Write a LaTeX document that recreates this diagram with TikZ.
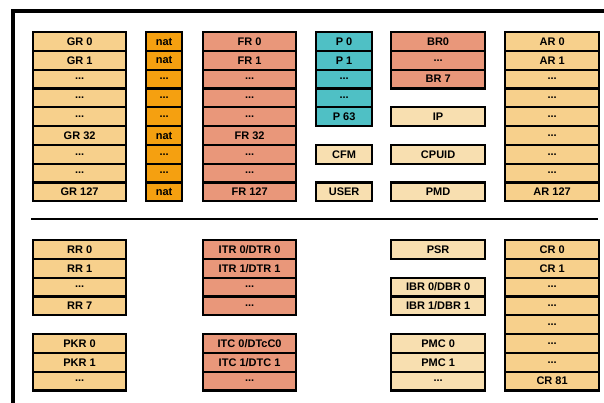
\documentclass[tikz,border=0pt]{standalone}
\usepackage{fontspec}
\setmainfont{Liberation Sans}
\usetikzlibrary{shadows}
\definecolor{gen}{HTML}{F7D08C}
\definecolor{natc}{HTML}{F5A010}
\definecolor{frc}{HTML}{E9977A}
\definecolor{prc}{HTML}{4FC0C5}
\definecolor{ltc}{HTML}{F8DFB0}
\newcommand\dd{...}
\newcommand\regcol[6]{%
  \foreach \t [count=\i from 0] in {#6} {%
    \node[regbox, fill=#5, minimum width=#3pt] (#1\i) at (#2, {#4+\i*18.8}) {\t};
  }%
}
\tikzset{
  regbox/.style={draw=black, line width=2.2pt, minimum height=18.8pt, inner sep=0pt,
    anchor=north west, font=\bfseries\fontsize{11}{12}\selectfont,
    drop shadow={shadow xshift=0.7pt, shadow yshift=-0.7pt, fill=black!35, opacity=0.5}},
  frameline/.style={line width=3.2pt, black},
  sepline/.style={line width=2.4pt, black}
}
\begin{document}
\begin{tikzpicture}[x=1pt,y=-1pt]
\useasboundingbox (0,0) rectangle (604,403);
\fill[white] (0,0) rectangle (604,403);
% frame
\coordinate (fbl) at (13,405);
\coordinate (ftl) at (13,11);
\coordinate (ftr) at (606,11);
\draw[frameline] (fbl) -- (ftl) -- (ftr);
% top section
\regcol{gr}{32}{93}{31}{gen}{GR 0,GR 1,\dd,\dd,\dd,GR 32,\dd,\dd,GR 127}
\regcol{nat}{145}{36}{31}{natc}{nat,nat,\dd,\dd,\dd,nat,\dd,\dd,nat}
\regcol{fr}{202}{93}{31}{frc}{FR 0,FR 1,\dd,\dd,\dd,FR 32,\dd,\dd,FR 127}
\regcol{p}{315}{56}{31}{prc}{P 0,P 1,\dd,\dd,P 63}
\node[regbox, fill=ltc, minimum width=56pt] (cfm) at (315,143.8) {CFM};
\node[regbox, fill=ltc, minimum width=56pt] (user) at (315,181.4) {USER};
\regcol{br}{390}{94}{31}{frc}{BR0,\dd,BR 7}
\node[regbox, fill=ltc, minimum width=94pt] (ip) at (390,106.2) {IP};
\node[regbox, fill=ltc, minimum width=94pt] (cpuid) at (390,143.8) {CPUID};
\node[regbox, fill=ltc, minimum width=94pt] (pmd) at (390,181.4) {PMD};
\regcol{ar}{504}{94}{31}{gen}{AR 0,AR 1,\dd,\dd,\dd,\dd,\dd,\dd,AR 127}
% separator
\coordinate (sl) at (31,219);
\coordinate (sr) at (598,219);
\draw[sepline] (sl) -- (sr);
% bottom section
\regcol{rr}{32}{93}{239}{gen}{RR 0,RR 1,\dd,RR 7}
\regcol{pkr}{32}{93}{333}{gen}{PKR 0,PKR 1,\dd}
\regcol{itr}{202}{93}{239}{frc}{ITR 0/DTR 0,ITR 1/DTR 1,\dd,\dd}
\regcol{itc}{202}{93}{333}{frc}{ITC 0/DTcC0,ITC 1/DTC 1,\dd}
\node[regbox, fill=ltc, minimum width=94pt] (psr) at (390,239) {PSR};
\regcol{ibr}{390}{94}{276.6}{ltc}{IBR 0/DBR 0,IBR 1/DBR 1}
\regcol{pmc}{390}{94}{333}{ltc}{PMC 0,PMC 1,\dd}
\regcol{cr}{504}{94}{239}{gen}{CR 0,CR 1,\dd,\dd,\dd,\dd,\dd,CR 81}
\end{tikzpicture}
\end{document}
